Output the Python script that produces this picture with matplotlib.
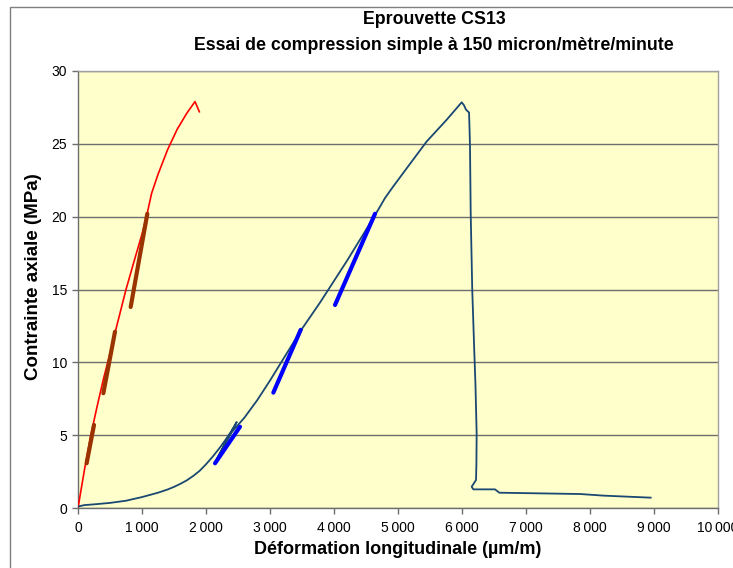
import matplotlib
matplotlib.use("Agg")
import matplotlib.pyplot as plt
from matplotlib.patches import Rectangle
from matplotlib.ticker import FuncFormatter

plt.rcParams['font.family'] = ['Liberation Sans', 'DejaVu Sans']

# Courbe de référence (rouge)
red_x = [0, 100, 200, 300, 400, 500, 600, 750, 900, 1000, 1080, 1150, 1250, 1400, 1550, 1700, 1828, 1896]
red_y = [0, 2.6, 5.0, 7.0, 8.9, 10.6, 12.4, 15.0, 17.3, 18.8, 20.2, 21.6, 22.9, 24.6, 26.0, 27.1, 27.9, 27.2]

# Eprouvette CS13 : chargement avec cycles de décharge / recharge
cs13_x = [0, 100, 250, 500, 750, 1000, 1250, 1400, 1500, 1600, 1700, 1800, 1900, 2000,
          2100, 2200, 2300, 2400, 2480,
          2150, 2300, 2400, 2600, 2800, 3000, 3182, 3495,
          3060, 3495, 3703, 3781, 4200, 4641,
          4016, 4641, 4800, 4930, 5200, 5448, 5760, 5995, 6031, 6062, 6110,
          6118, 6125, 6136, 6160, 6190, 6210, 6229, 6225, 6219, 6151, 6177,
          6516, 6583, 7844, 8208, 8948]
cs13_y = [0.1, 0.2, 0.25, 0.35, 0.5, 0.75, 1.05, 1.27, 1.45, 1.66, 1.9, 2.2, 2.55, 3.0,
          3.5, 4.05, 4.65, 5.3, 5.9,
          3.2, 4.45, 5.2, 6.2, 7.4, 8.75, 10.05, 12.27,
          7.95, 12.27, 13.6, 14.1, 16.95, 20.1,
          13.9, 20.1, 21.3, 22.1, 23.7, 25.16, 26.65, 27.85, 27.65, 27.35, 27.15,
          26.0, 24.8, 20.2, 15.0, 11.0, 8.5, 5.1, 3.0, 1.92, 1.46, 1.28,
          1.28, 1.05, 0.96, 0.85, 0.71]

# Droites de module (référence, brun)
mod_ref = [([135, 250], [3.07, 5.7]),
           ([396, 578], [7.88, 12.1]),
           ([823, 1083], [13.8, 20.2])]

# Droites de module (CS13, bleu)
mod_cs13 = [([2141, 2531], [3.07, 5.58]),
            ([3052, 3479], [7.92, 12.23]),
            ([4016, 4641], [13.94, 20.2])]

x_ticks = list(range(0, 10001, 1000))
y_ticks = list(range(0, 31, 5))

W, H = 733, 568
fig = plt.figure(figsize=(W / 100, H / 100), dpi=100)
fig.patch.set_facecolor('white')

# Cadre de la zone de graphique
fig.patches.append(Rectangle((10 / W, -0.2), 1.2, (H - 7) / H + 0.2,
                             transform=fig.transFigure, fill=False,
                             edgecolor='#7f7f7f', linewidth=1.0))

ax = fig.add_axes([78 / W, (H - 508) / H, 640 / W, 437 / H])
ax.set_facecolor('#FFFFCC')

ax.set_xlim(0, 10000)
ax.set_ylim(0, 30)
ax.set_xticks(x_ticks)
ax.set_yticks(y_ticks)
ax.xaxis.set_major_formatter(FuncFormatter(lambda v, p: f"{v:,.0f}".replace(",", "\u2009")))
ax.yaxis.set_major_formatter(FuncFormatter(lambda v, p: f"{v:.0f}"))

ax.grid(axis='y', color='#6e6e6e', linewidth=1.0)
ax.set_axisbelow(True)

for s in ['top', 'right']:
    ax.spines[s].set_color('#a0a0a0')
    ax.spines[s].set_linewidth(1.0)
for s in ['left', 'bottom']:
    ax.spines[s].set_color('#6e6e6e')
    ax.spines[s].set_linewidth(1.0)

ax.tick_params(axis='both', direction='out', length=4, width=1.0, color='#6e6e6e',
               labelsize=10, labelcolor='black')
ax.tick_params(axis='x', pad=5)
ax.tick_params(axis='y', pad=4)

ax.plot(red_x, red_y, color='#FF0000', linewidth=1.2, zorder=3)
ax.plot(cs13_x, cs13_y, color='#1A4872', linewidth=1.3, zorder=3)

for xs, ys in mod_ref:
    ax.plot(xs, ys, color='#993300', linewidth=3.0, solid_capstyle='round', zorder=4)
for xs, ys in mod_cs13:
    ax.plot(xs, ys, color='#0000FF', linewidth=3.0, solid_capstyle='round', zorder=4)

ax.set_xlabel("Déformation longitudinale (µm/m)", fontsize=13, fontweight='bold', labelpad=5)
fig.text(34 / W, 1 - 277 / H, "Contrainte axiale (MPa)", rotation=90,
         ha='center', va='center', fontsize=13.5, fontweight='bold')

fig.text(434 / W, 1 - 19 / H, "Eprouvette CS13", ha='center', va='center',
         fontsize=12.8, fontweight='bold')
fig.text(434 / W, 1 - 45 / H, "Essai de compression simple à 150 micron/mètre/minute",
         ha='center', va='center', fontsize=12.8, fontweight='bold')

fig.savefig("out.png", dpi=100)
